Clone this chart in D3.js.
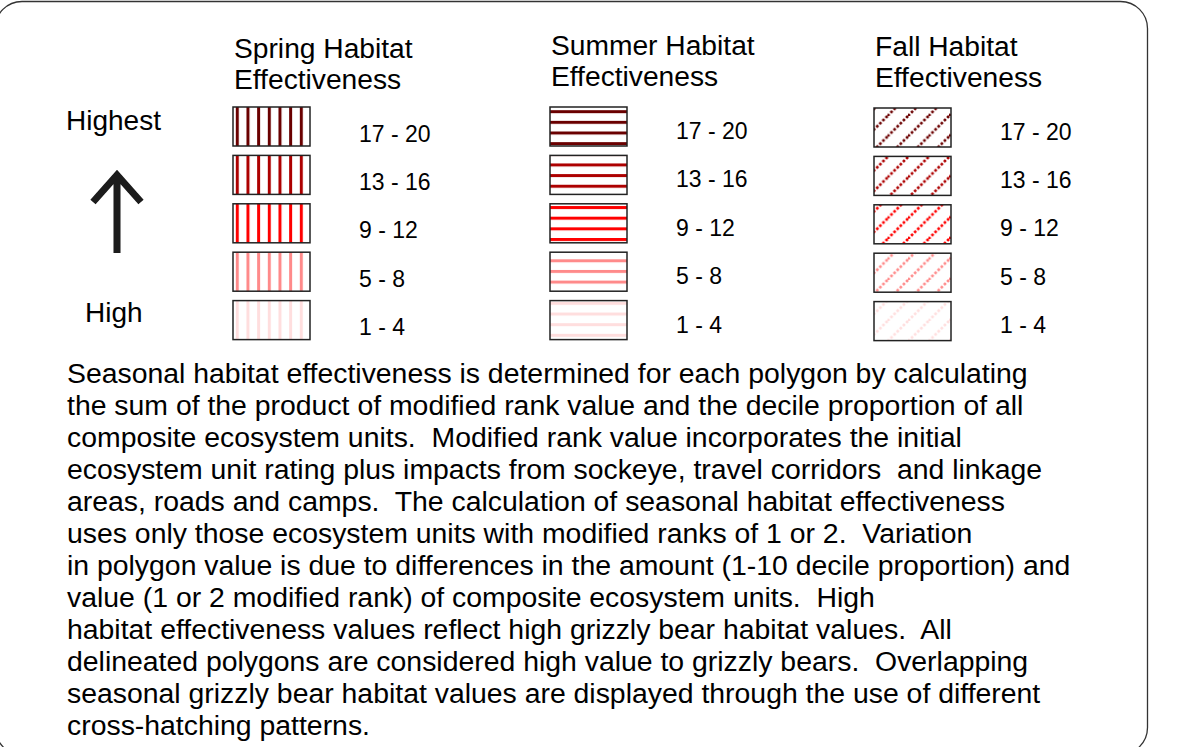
<!DOCTYPE html>
<html>
<head>
<meta charset="utf-8">
<script src="https://cdn.jsdelivr.net/npm/d3@7"></script>
<style>
  html, body { margin: 0; padding: 0; background: #fff; }
  svg { display: block; font-family: Arial, "Liberation Sans", sans-serif; }
  text { white-space: pre; }
</style>
</head>
<body>
<div id="chart"></div>
<script>
const seasons = ["Spring", "Summer", "Fall"]
const seasonTitles = [["Spring Habitat", "Effectiveness"], ["Summer Habitat", "Effectiveness"], ["Fall Habitat", "Effectiveness"]]
const classes = ["17 - 20", "13 - 16", "9 - 12", "5 - 8", "1 - 4"]
const classColors = ["#6a0000", "#ad0000", "#ff0000", "#ff8a8a", "#ffdede"]
const rankLabels = ["Highest", "High"]
const paragraph = [
    "Seasonal habitat effectiveness is determined for each polygon by calculating",
    "the sum of the product of modified rank value and the decile proportion of all",
    "composite ecosystem units.  Modified rank value incorporates the initial",
    "ecosystem unit rating plus impacts from sockeye, travel corridors  and linkage",
    "areas, roads and camps.  The calculation of seasonal habitat effectiveness",
    "uses only those ecosystem units with modified ranks of 1 or 2.  Variation",
    "in polygon value is due to differences in the amount (1-10 decile proportion) and",
    "value (1 or 2 modified rank) of composite ecosystem units.  High",
    "habitat effectiveness values reflect high grizzly bear habitat values.  All",
    "delineated polygons are considered high value to grizzly bears.  Overlapping",
    "seasonal grizzly bear habitat values are displayed through the use of different",
    "cross-hatching patterns."
]

const W = 1183, H = 747
const svg = d3.select("#chart").append("svg")
    .attr("width", W)
    .attr("height", H)

// frame (runs off the left and bottom edges)
svg.append("rect")
    .attr("x", -5).attr("y", 1.5)
    .attr("width", 1152.5).attr("height", 753)
    .attr("rx", 27).attr("ry", 27)
    .attr("fill", "#fff")
    .attr("stroke", "#333")
    .attr("stroke-width", 1.3)

const xSeason = d3.scaleOrdinal().domain(seasons).range([233, 550, 874])
const boxW = 77, boxH = 39
const yClass = d3.scaleBand().domain(classes)
    .range([107, 107 + 4 * 48.4 + boxH])
    .paddingInner(1 - boxH / 48.4)
    .paddingOuter(0)
const color = d3.scaleOrdinal().domain(classes).range(classColors)

const defs = svg.append("defs")

// spring: vertical stripes, summer: horizontal stripes, fall: dotted diagonals
classes.forEach((c, i) => {
    const col = color(c)
    const v = defs.append("pattern")
        .attr("id", "spring" + i)
        .attr("patternUnits", "userSpaceOnUse")
        .attr("x", 235.8).attr("y", 0)
        .attr("width", 10.67).attr("height", 20)
    v.append("rect").attr("x", 0).attr("y", 0).attr("width", 3).attr("height", 20).attr("fill", col)

    const h = defs.append("pattern")
        .attr("id", "summer" + i)
        .attr("patternUnits", "userSpaceOnUse")
        .attr("x", 0).attr("y", 110.2)
        .attr("width", 20).attr("height", 10.65)
    h.append("rect").attr("x", 0).attr("y", 0).attr("width", 20).attr("height", 3).attr("fill", col)

    const s = 20.5
    const d = defs.append("pattern")
        .attr("id", "fall" + i)
        .attr("patternUnits", "userSpaceOnUse")
        .attr("x", 867).attr("y", 116)
        .attr("width", s).attr("height", s)
    d.append("path")
        .attr("d", `M-${s},${s} L${s},-${s} M0,${s} L${s},0 M0,${2 * s} L${2 * s},0`)
        .attr("stroke", col)
        .attr("stroke-width", 2.6)
        .attr("stroke-dasharray", "2.6,1.8")
        .attr("fill", "none")
})

// titles
const titleY = { Spring: 58, Summer: 55, Fall: 56 }
seasons.forEach((s, i) => {
    const t = svg.append("text")
        .attr("x", xSeason(s) + 1)
        .attr("y", titleY[s])
        .attr("font-size", 28.2)
        .attr("fill", "#000")
    seasonTitles[i].forEach((line, j) => {
        t.append("tspan").attr("x", xSeason(s) + 1).attr("dy", j === 0 ? 0 : 31).text(line)
    })
})

// swatches + labels
const labelOff = { Spring: 34.5, Summer: 32, Fall: 32.5 }
seasons.forEach(s => {
    const g = svg.append("g")
    g.selectAll("rect.sw")
        .data(classes)
        .enter().append("rect")
        .attr("class", "sw")
        .attr("x", xSeason(s))
        .attr("y", c => yClass(c) + (s === "Fall" ? 1 : 0))
        .attr("width", boxW)
        .attr("height", yClass.bandwidth())
        .attr("fill", (c, i) => `url(#${s.toLowerCase()}${i})`)
        .attr("stroke", "#222")
        .attr("stroke-width", 1.5)

    g.selectAll("text.lab")
        .data(classes)
        .enter().append("text")
        .attr("class", "lab")
        .attr("x", xSeason(s) + 126)
        .attr("y", c => yClass(c) + labelOff[s])
        .attr("font-size", 23)
        .attr("fill", "#000")
        .text(c => c)
})

// Highest / High with arrow
svg.append("text").attr("x", 66).attr("y", 130).attr("font-size", 28).text(rankLabels[0])
svg.append("text").attr("x", 85).attr("y", 322).attr("font-size", 28).text(rankLabels[1])

const blur = defs.append("filter").attr("id", "soft")
blur.append("feGaussianBlur").attr("stdDeviation", 0.7)

const arrow = d3.path()
arrow.moveTo(117, 253)
arrow.lineTo(117, 176)
arrow.moveTo(93, 202)
arrow.lineTo(117, 175)
arrow.lineTo(141, 202)
svg.append("path")
    .attr("d", arrow.toString())
    .attr("fill", "none")
    .attr("stroke", "#1a1a1a")
    .attr("stroke-width", 7)
    .attr("stroke-linejoin", "miter")
    .attr("filter", "url(#soft)")

// description
const para = svg.append("text")
    .attr("x", 67)
    .attr("y", 383)
    .attr("font-size", 28.4)
    .attr("fill", "#000")
para.selectAll("tspan")
    .data(paragraph)
    .enter().append("tspan")
    .attr("x", 67)
    .attr("dy", (d, i) => i === 0 ? 0 : 32)
    .text(d => d)
</script>
</body>
</html>
